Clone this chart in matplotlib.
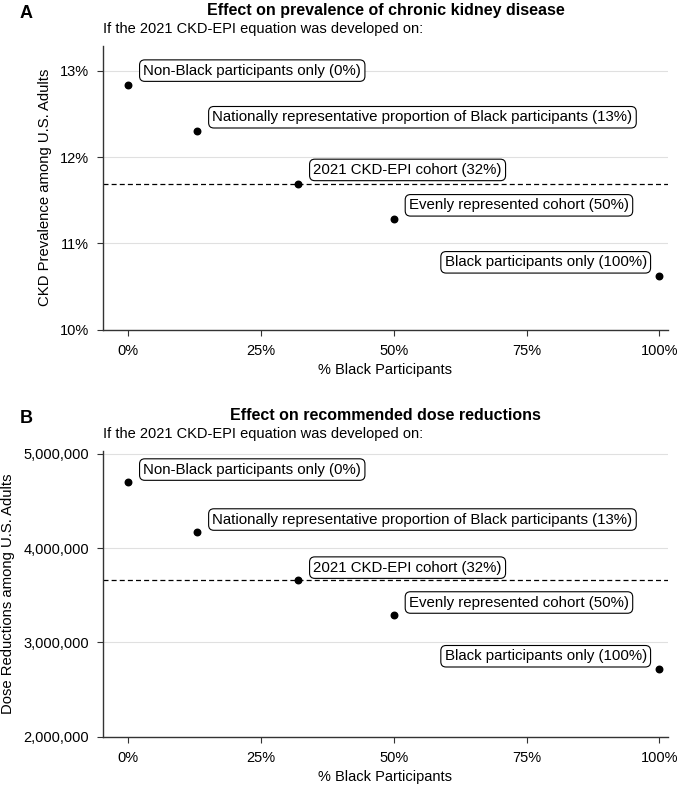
import matplotlib.pyplot as plt
from matplotlib.ticker import FuncFormatter

plt.rcParams['font.family'] = ['Liberation Sans', 'DejaVu Sans']

# data
pct_black = [0, 13, 32, 50, 100]
labels = [
    "Non-Black participants only (0%)",
    "Nationally representative proportion of Black participants (13%)",
    "2021 CKD-EPI cohort (32%)",
    "Evenly represented cohort (50%)",
    "Black participants only (100%)",
]
ckd_prev = [12.84, 12.30, 11.69, 11.28, 10.62]
dose_red = [4700000, 4170000, 3660000, 3290000, 2720000]
ref_idx = 2  # 2021 CKD-EPI cohort -> dashed reference line

xticks = [0, 25, 50, 75, 100]
ckd_ticks = [10, 11, 12, 13]
dose_ticks = [2000000, 3000000, 4000000, 5000000]


def panel(ax, y, yticks, ylim, yfmt, title, ylabel, tag, dy):
    ax.axhline(y[ref_idx], color='black', ls=(0, (4, 2.5)), lw=0.9, zorder=2)
    ax.scatter(pct_black, y, s=22, color='black', zorder=4)
    for i, (xv, yv, lab) in enumerate(zip(pct_black, y, labels)):
        right = xv == 100
        ax.annotate(lab, (xv, yv), xytext=(-9 if right else 11, dy),
                    textcoords='offset points', fontsize=10.8,
                    ha='right' if right else 'left', va='center',
                    bbox=dict(boxstyle='round,pad=0.25,rounding_size=0.35',
                              fc='white', ec='black', lw=0.8), zorder=5)
    ax.set_xlim(-4.7, 101.6)
    ax.set_ylim(*ylim)
    ax.set_xticks(xticks)
    ax.xaxis.set_major_formatter(FuncFormatter(lambda v, p: f"{v:.0f}%"))
    ax.set_yticks(yticks)
    ax.yaxis.set_major_formatter(FuncFormatter(yfmt))
    ax.grid(axis='y', color='#e0e0e0', lw=0.8, zorder=0)
    ax.set_axisbelow(True)
    for s in ['top', 'right']:
        ax.spines[s].set_visible(False)
    for s in ['left', 'bottom']:
        ax.spines[s].set_color('#333333')
        ax.spines[s].set_linewidth(1.0)
    ax.tick_params(labelsize=10.5, colors='#333333', labelcolor='black',
                   length=4, width=0.8, pad=6)
    ax.set_xlabel('% Black Participants', fontsize=10.5, labelpad=4)
    ax.set_ylabel(ylabel, fontsize=10.7, labelpad=6)
    ax.set_title(title, fontsize=11.5, fontweight='bold', pad=22)
    ax.text(0, 1.035, 'If the 2021 CKD-EPI equation was developed on:',
            transform=ax.transAxes, fontsize=10.5, ha='left', va='bottom')
    ax.text(-0.148, 1.083, tag, transform=ax.transAxes, fontsize=13,
            fontweight='bold', ha='left', va='bottom')


fig = plt.figure(figsize=(6.78, 7.87), dpi=100)
ax_a = fig.add_axes([0.152, 0.581, 0.833, 0.361])
ax_b = fig.add_axes([0.152, 0.064, 0.833, 0.363])

panel(ax_a, ckd_prev, ckd_ticks, (10, 13.29), lambda v, p: f"{v:.0f}%",
      'Effect on prevalence of chronic kidney disease',
      'CKD Prevalence among U.S. Adults', 'A', 10)
panel(ax_b, dose_red, dose_ticks, (2000000, 5030000), lambda v, p: f"{v:,.0f}",
      'Effect on recommended dose reductions',
      'Dose Reductions among U.S. Adults', 'B', 9)

fig.savefig('out.png', dpi=100)
